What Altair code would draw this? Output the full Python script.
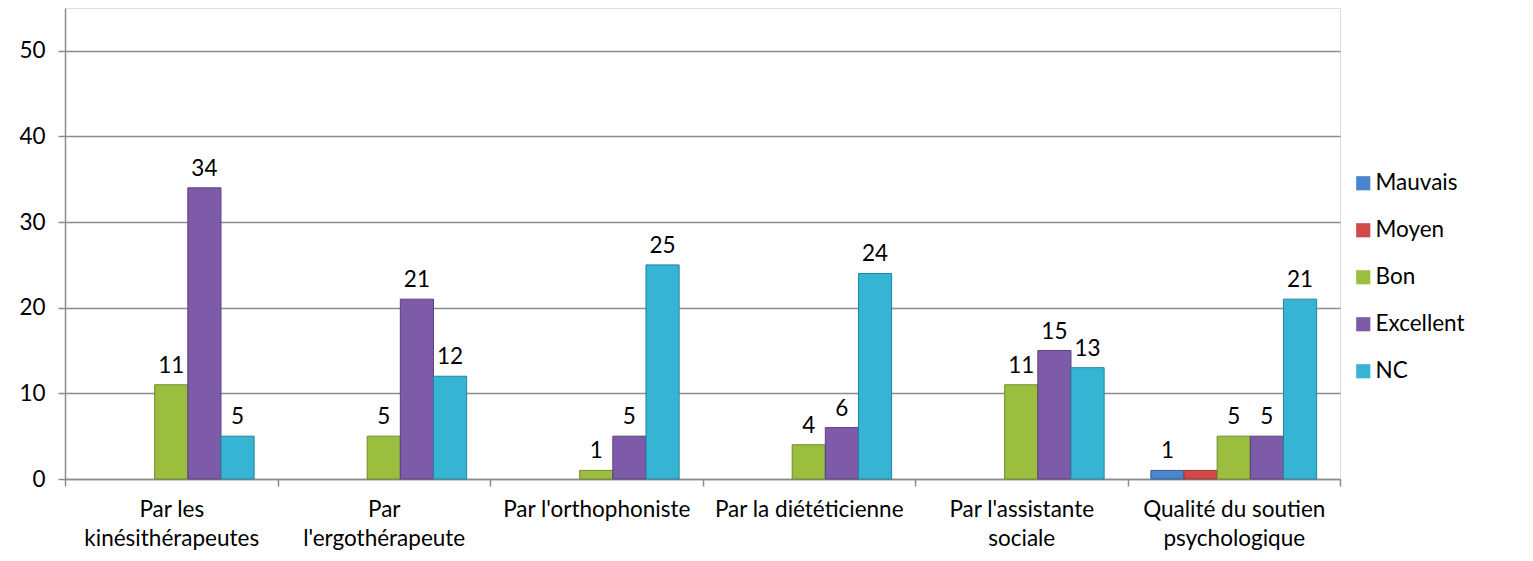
import altair as alt
import pandas as pd

categories = [
    "Par les\nkinésithérapeutes",
    "Par\nl'ergothérapeute",
    "Par l'orthophoniste",
    "Par la diététicienne",
    "Par l'assistante\nsociale",
    "Qualité du soutien\npsychologique",
]
series = ["Mauvais", "Moyen", "Bon", "Excellent", "NC"]
mauvais = [0, 0, 0, 0, 0, 1]
moyen = [0, 0, 0, 0, 0, 1]
bon = [11, 5, 1, 4, 11, 5]
excellent = [34, 21, 5, 6, 15, 5]
nc = [5, 12, 25, 24, 13, 21]
colors = ["#4A86CC", "#CF4A48", "#9BBE3E", "#7D5BA8", "#35B4D3"]
strokes = ["#2F5F96", "#973634", "#6E8A28", "#574080", "#23839C"]

rows = []
for s, vals in zip(series, [mauvais, moyen, bon, excellent, nc]):
    for c, v in zip(categories, vals):
        rows.append({"category": c, "series": s, "value": v})
df = pd.DataFrame(rows)

font = "Lato"
fs = 22.5

x = alt.X(
    "category:N",
    sort=categories,
    scale=alt.Scale(paddingInner=0, paddingOuter=0),
    axis=alt.Axis(
        title=None,
        labelAngle=0,
        labelExpr="split(datum.label, '\\n')",
        labelFontSize=fs,
        labelFont=font,
        labelColor="#000000",
        labelPadding=12,
        labelLineHeight=29,
        labelLimit=0,
        labelOverlap=False,
        tickBand="extent",
        tickSize=7,
        tickColor="#8C8C8C",
        tickWidth=1.5,
        domainColor="#8C8C8C",
        domainWidth=1.5,
        labelBaseline="top",
    ),
)

y = alt.Y(
    "value:Q",
    scale=alt.Scale(domain=[0, 55], nice=False),
    axis=alt.Axis(
        title=None,
        values=[0, 10, 20, 30, 40, 50],
        labelFontSize=fs,
        labelFont=font,
        labelColor="#000000",
        labelPadding=13,
        tickSize=7,
        tickColor="#8C8C8C",
        tickWidth=1.5,
        domainColor="#8C8C8C",
        domainWidth=1.5,
        gridColor="#8C8C8C",
        gridWidth=1.5,
        minExtent=52,
        maxExtent=52,
    ),
)

base = alt.Chart(df).transform_filter("datum.value > 0").encode(
    x=x,
    xOffset=alt.XOffset(
        "series:N",
        sort=series,
        scale=alt.Scale(domain=series, paddingInner=0, paddingOuter=0.705),
    ),
    y=y,
)

bars = base.mark_bar(strokeWidth=1).encode(
    color=alt.Color(
        "series:N",
        sort=series,
        scale=alt.Scale(domain=series, range=colors),
        legend=alt.Legend(
            title=None,
            orient="none",
            legendX=1287,
            legendY=164,
            labelFontSize=fs,
            labelFont=font,
            labelColor="#000000",
            symbolType="square",
            symbolSize=200,
            symbolStrokeWidth=0,
            rowPadding=24,
            labelOffset=1,
        ),
    ),
    stroke=alt.Stroke(
        "series:N",
        sort=series,
        scale=alt.Scale(domain=series, range=strokes),
        legend=None,
    ),
)

labels = base.transform_filter(
    "datum.series != 'Moyen'"
).mark_text(
    dy=-7, baseline="bottom", fontSize=fs, font=font, color="#000000"
).encode(text="value:Q")

chart = (
    alt.layer(bars, labels)
    .properties(
        width=1275,
        height=471,
        padding={"left": 5, "top": 0, "right": 5, "bottom": 5},
    )
    .configure_view(stroke=None)
    .configure(background="white")
)

chart.save("out.html", embed_options={"renderer": "svg", "actions": False})
